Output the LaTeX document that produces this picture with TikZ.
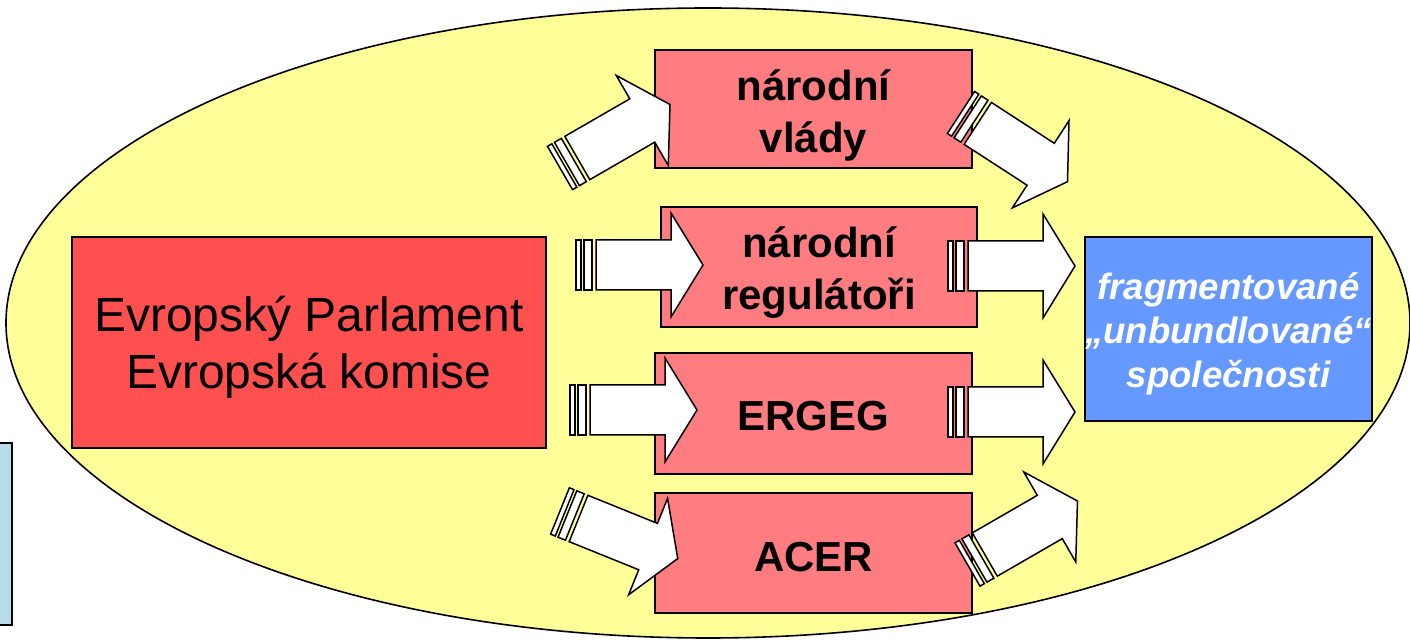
\documentclass[tikz,border=0pt]{standalone}
\usepackage{fontspec}
\setmainfont{Liberation Sans}
\definecolor{fieldyellow}{HTML}{FFFF99}
\definecolor{parlred}{HTML}{FF5050}
\definecolor{bodypink}{HTML}{FF7C80}
\definecolor{compblue}{HTML}{6699FF}
\definecolor{sideblue}{HTML}{B7DEE8}
\begin{document}
\begin{tikzpicture}[x=0.5pt,y=-0.5pt,
  box/.style={draw=black, line width=1pt, inner sep=0pt},
  redbox/.style={box, fill=parlred},
  pinkbox/.style={box, fill=bodypink, minimum width=158.5pt, minimum height=60pt},
  bluebox/.style={box, fill=compblue},
  label/.style={inner sep=0pt, align=center},
  redtext/.style={label, font=\fontsize{24}{28.5}\selectfont},
  pinktext/.style={label, font=\bfseries\fontsize{21}{26}\selectfont},
  bluetext/.style={label, text=white, font=\bfseries\itshape\fontsize{18.3}{22}\selectfont},
  arrowline/.style={draw=black, fill=white, line width=0.75pt, line join=miter},
  pics/stripearrow/.style={code={
    \path[arrowline] (0,-25) rectangle (5,25);
    \path[arrowline] (8,-25) rectangle (16,25);
    \path[arrowline] (20,-25) -- (95,-25) -- (95,-52) -- (127,0)
      -- (95,52) -- (95,25) -- (20,25) -- cycle;
  }}
]
\useasboundingbox (0,0) rectangle (1410,641);
\clip (0,0) rectangle (1410,641);

% background field
\draw[fill=fieldyellow, line width=0.8pt] (708,323) ellipse [x radius=351pt, y radius=157.5pt];

% side panel at the left edge
\node[box, fill=sideblue, minimum width=21pt, minimum height=91pt] (side) at (-9,534) {};

% institutions
\node[redbox, minimum width=237pt, minimum height=105.5pt] (ep) at (309,342.5) {};
\node[redtext] (ep-text) at ([yshift=-2.5pt]ep.center) {Evropský Parlament\\Evropská komise};

\node[pinkbox, minimum height=59pt] (nv) at (813.5,109) {};
\node[pinktext] (nv-text) at ([yshift=-3.2pt]nv.center) {národní\\vlády};

\node[pinkbox, minimum width=158pt] (nr) at (819,267) {};
\node[pinktext] (nr-text) at ([yshift=-3pt]nr.center) {národní\\regulátoři};

\node[pinkbox, minimum height=60.5pt] (erg) at (813.5,413.5) {};
\node[pinktext] (erg-text) at ([yshift=-1.5pt]erg.center) {ERGEG};

\node[pinkbox] (acer) at (813.5,553) {};
\node[pinktext] (acer-text) at ([yshift=-2pt]acer.center) {ACER};

% companies
\node[bluebox, minimum width=143.5pt, minimum height=92pt] (comp) at (1228.5,329) {};
\node[bluetext] (comp-text) at ([yshift=-2.2pt]comp.center)
  {fragmentované\\„unbundlované“\\společnosti};

% tails of the striped arrows
\coordinate (t1) at (560,168);
\coordinate (t2) at (961,112.5);
\coordinate (t3) at (576,265);
\coordinate (t4) at (948,266);
\coordinate (t5) at (570,410);
\coordinate (t6) at (948,412);
\coordinate (t7) at (560,511);
\coordinate (t8) at (967.5,564.5);

\pic[rotate=30] at (t1) {stripearrow};
\pic[rotate=-33] at (t2) {stripearrow};
\pic at (t3) {stripearrow};
\pic at (t4) {stripearrow};
\pic at (t5) {stripearrow};
\pic at (t6) {stripearrow};
\pic[rotate=-22] at (t7) {stripearrow};
\pic[rotate=30] at (t8) {stripearrow};
\end{tikzpicture}
\end{document}
